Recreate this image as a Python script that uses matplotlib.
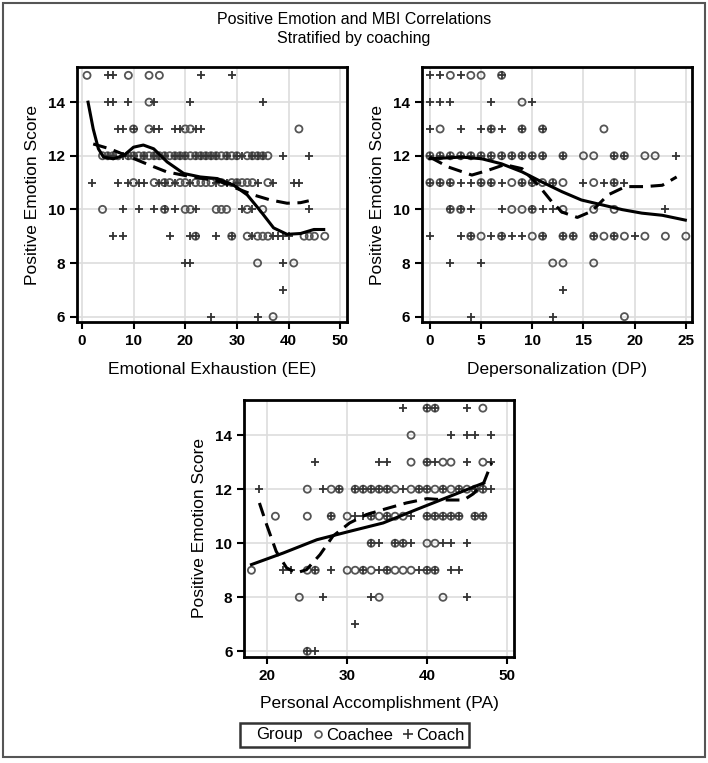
import matplotlib
matplotlib.use("Agg")
import matplotlib.pyplot as plt
from matplotlib.lines import Line2D
from matplotlib.patches import Rectangle

plt.rcParams['font.family'] = ['Liberation Sans', 'DejaVu Sans']

# ---- Emotional Exhaustion (EE) panel: score -> list of EE values ----
ee_coachee = {
    15: [1, 9, 13, 15],
    14: [13],
    13: [10, 13, 20, 21, 42],
    12: [4, 5, 6, 7, 9, 10, 11, 12, 13, 14, 15, 16, 17, 18, 19, 20, 21, 22, 23, 24,
         25, 26, 27, 28, 29, 30, 32, 33, 34, 35, 36],
    11: [10, 14, 16, 17, 19, 20, 22, 23, 24, 25, 27, 29, 30, 31, 32, 33, 36],
    10: [4, 16, 20, 21, 26, 27, 28, 32, 35],
    9: [22, 29, 32, 34, 35, 36, 43, 44, 45, 47],
    8: [34, 41],
    6: [37],
}
ee_coach = {
    15: [5, 6, 23, 29],
    14: [5, 6, 9, 14, 21, 35],
    13: [7, 8, 10, 14, 15, 18, 19, 22, 23],
    12: [5, 6, 8, 9, 10, 12, 14, 15, 16, 18, 19, 20, 22, 23, 24, 25, 26, 28, 30, 31,
         33, 34, 35, 39, 44],
    11: [2, 7, 9, 11, 12, 15, 16, 18, 21, 26, 28, 30, 34, 37, 41, 42],
    10: [8, 11, 14, 16, 18, 22, 31, 33, 44],
    9: [6, 8, 17, 21, 22, 26, 29, 33, 37, 38, 39, 40],
    8: [20, 21, 39],
    7: [39],
    6: [25, 34],
}
ee_solid_x = [1.2, 2.2, 3.2, 4.2, 6.1, 8.1, 10.0, 11.9, 13.9, 16.5, 19.7, 22.9, 26.2,
              29.4, 32.0, 34.6, 37.1, 39.7, 42.3, 44.9, 46.8]
ee_solid_y = [14.0, 13.0, 12.26, 11.95, 11.89, 12.01, 12.32, 12.4, 12.26, 11.77, 11.34,
              11.21, 11.15, 10.9, 10.54, 9.93, 9.31, 9.07, 9.1, 9.25, 9.25]
ee_dash_x = [2.2, 5.4, 8.6, 12.5, 16.4, 20.3, 23.5, 26.8, 30.0, 33.2, 36.5, 39.7, 42.3, 43.9]
ee_dash_y = [12.44, 12.26, 12.01, 11.7, 11.4, 11.25, 11.15, 11.03, 10.78, 10.54, 10.35,
             10.23, 10.25, 10.32]

# ---- Depersonalization (DP) panel ----
dp_coachee = {
    15: [2, 4, 5, 7],
    14: [9],
    13: [1, 6, 9, 11, 17],
    12: [0, 1, 2, 3, 4, 5, 6, 7, 8, 9, 10, 11, 13, 15, 16, 18, 19, 21, 22],
    11: [0, 1, 2, 5, 6, 8, 9, 10, 11, 12, 13, 16, 18],
    10: [2, 3, 8, 9, 10, 13, 16, 18],
    9: [4, 5, 7, 10, 11, 13, 14, 16, 17, 18, 19, 21, 23, 25],
    8: [12, 13, 16],
    6: [19],
}
dp_coach = {
    15: [0, 1, 3, 7],
    14: [0, 1, 2, 6, 10],
    13: [0, 3, 5, 6, 7, 9, 11],
    12: [0, 1, 2, 3, 4, 5, 6, 7, 8, 9, 10, 11, 13, 18, 19, 24],
    11: [0, 1, 2, 3, 4, 5, 6, 7, 9, 10, 12, 15, 17, 18, 19],
    10: [2, 3, 4, 7, 10, 11, 12, 23],
    9: [0, 3, 4, 6, 7, 8, 9, 11, 13, 14, 16, 18, 20],
    8: [2, 5],
    7: [13],
    6: [4, 12],
}
dp_solid_x = [0.0, 3.1, 5.05, 7.0, 9.0, 10.9, 12.9, 14.8, 16.8, 18.8, 20.7, 22.7, 24.95]
dp_solid_y = [11.89, 11.95, 11.89, 11.7, 11.4, 11.03, 10.66, 10.35, 10.17, 9.99, 9.86,
              9.78, 9.6]
dp_dash_x = [0.0, 1.8, 4.1, 5.7, 7.3, 9.0, 10.6, 11.9, 12.9, 14.4, 15.8, 17.4, 19.1,
             21.0, 22.7, 24.1]
dp_dash_y = [11.95, 11.58, 11.28, 11.46, 11.67, 11.52, 10.9, 10.29, 9.9, 9.7, 9.93,
             10.54, 10.85, 10.85, 10.9, 11.21]

# ---- Personal Accomplishment (PA) panel ----
pa_coachee = {
    15: [40, 41, 47],
    14: [38],
    13: [38, 40, 42, 43, 47],
    12: [25, 28, 29, 31, 32, 33, 34, 35, 36, 38, 39, 40, 41, 42, 43, 44, 45, 46, 47],
    11: [21, 25, 28, 30, 33, 34, 35, 36, 37, 40, 41, 42, 43, 44, 46, 47],
    10: [33, 36, 37, 40, 41],
    9: [18, 25, 26, 30, 31, 32, 33, 35, 36, 37, 38, 40, 41],
    8: [24, 34, 42],
    6: [25],
}
pa_coach = {
    15: [37, 40, 41, 45],
    14: [43, 45, 46, 48],
    13: [26, 34, 35, 40, 41, 45, 48],
    12: [19, 27, 29, 31, 32, 33, 34, 35, 37, 39, 40, 42, 44, 46, 47, 48],
    11: [28, 31, 32, 33, 35, 38, 40, 41, 42, 43, 44, 46, 47],
    10: [33, 34, 36, 37, 38, 42, 43, 45],
    9: [22, 23, 26, 28, 32, 34, 35, 39, 40, 41, 43, 44],
    8: [27, 33, 45],
    7: [31],
    6: [25, 26],
}
pa_solid_x = [18.0, 22.0, 26.2, 30.3, 34.5, 38.7, 42.9, 47.1]
pa_solid_y = [9.21, 9.64, 10.13, 10.44, 10.75, 11.25, 11.74, 12.23]
pa_dash_x = [19.0, 19.9, 21.1, 22.4, 23.6, 24.9, 26.6, 28.2, 30.3, 32.4, 34.9, 37.4,
             40.0, 42.5, 44.6, 45.8, 47.1, 48.1]
pa_dash_y = [11.49, 10.69, 9.7, 9.09, 8.9, 9.02, 9.58, 10.26, 10.75, 11.06, 11.28, 11.49,
             11.65, 11.6, 11.6, 11.83, 12.23, 12.98]

W, H = 708, 763
fig = plt.figure(figsize=(W / 100, H / 100), dpi=100)


def flatten(d):
    xs, ys = [], []
    for score, vals in d.items():
        xs += vals
        ys += [score] * len(vals)
    return xs, ys


def panel(rect, coachee, coach, sx, sy, dx, dy, xlim, xticks, xlabel):
    ax = fig.add_axes(rect)
    ax.grid(True, color='#dddddd', linewidth=1.2, zorder=0)
    ax.set_axisbelow(True)
    cx, cy = flatten(coachee)
    ax.scatter(cx, cy, s=26, facecolors='none', edgecolors='#555555', linewidths=1.3, zorder=2)
    px, py = flatten(coach)
    ax.scatter(px, py, s=32, marker='+', color='#333333', linewidths=1.3, zorder=2)
    ax.plot(sx, sy, color='black', lw=2.2, zorder=3)
    ax.plot(dx, dy, color='black', lw=2.2, ls=(0, (4.5, 2.5)), zorder=3)
    ax.set_xlim(*xlim)
    ax.set_ylim(5.8, 15.3)
    ax.set_xticks(xticks)
    ax.set_yticks([6, 8, 10, 12, 14])
    for s in ax.spines.values():
        s.set_linewidth(2.0)
    ax.tick_params(width=1.5, length=5, labelsize=11)
    for lab in ax.get_xticklabels() + ax.get_yticklabels():
        lab.set_fontweight('bold')
    ax.set_xlabel(xlabel, fontsize=12.5, labelpad=10)
    ax.set_ylabel('Positive Emotion Score', fontsize=12.5, labelpad=6)
    return ax


panel([0.1083, 0.578, 0.3818, 0.3338], ee_coachee, ee_coach, ee_solid_x, ee_solid_y,
      ee_dash_x, ee_dash_y, (-1, 51.3), [0, 10, 20, 30, 40, 50], 'Emotional Exhaustion (EE)')
panel([0.5956, 0.578, 0.3818, 0.3338], dp_coachee, dp_coach, dp_solid_x, dp_solid_y,
      dp_dash_x, dp_dash_y, (-0.8, 25.6), [0, 5, 10, 15, 20, 25], 'Depersonalization (DP)')
panel([0.345, 0.1393, 0.381, 0.3364], pa_coachee, pa_coach, pa_solid_x, pa_solid_y,
      pa_dash_x, pa_dash_y, (17.1, 50.9), [20, 30, 40, 50], 'Personal Accomplishment (PA)')

fig.text(0.5, 1 - 20 / H, 'Positive Emotion and MBI Correlations', ha='center', va='center', fontsize=11.5)
fig.text(0.5, 1 - 38 / H, 'Stratified by coaching', ha='center', va='center', fontsize=11.5)

handles = [Line2D([], [], linestyle='none'),
           Line2D([], [], linestyle='none', marker='o', markerfacecolor='none',
                  markeredgecolor='#555555', markersize=5, markeredgewidth=1.2),
           Line2D([], [], linestyle='none', marker='+', color='#333333', markersize=7,
                  markeredgewidth=1.2)]
leg = fig.legend(handles, ['Group', 'Coachee', 'Coach'], ncol=3, loc='center',
                 bbox_to_anchor=(0.501, 1 - 735 / H), fontsize=12, frameon=True,
                 fancybox=False, edgecolor='black', handlelength=0.4, handletextpad=0.3,
                 columnspacing=0.7, borderpad=0.25, borderaxespad=0)
leg.get_frame().set_linewidth(1.8)

fig.patches.append(Rectangle((3 / W, 6 / H), 1 - 6 / W, 1 - 9 / H, transform=fig.transFigure,
                             fill=False, edgecolor='#555555', linewidth=1.5))

fig.savefig('out.png', dpi=100)
